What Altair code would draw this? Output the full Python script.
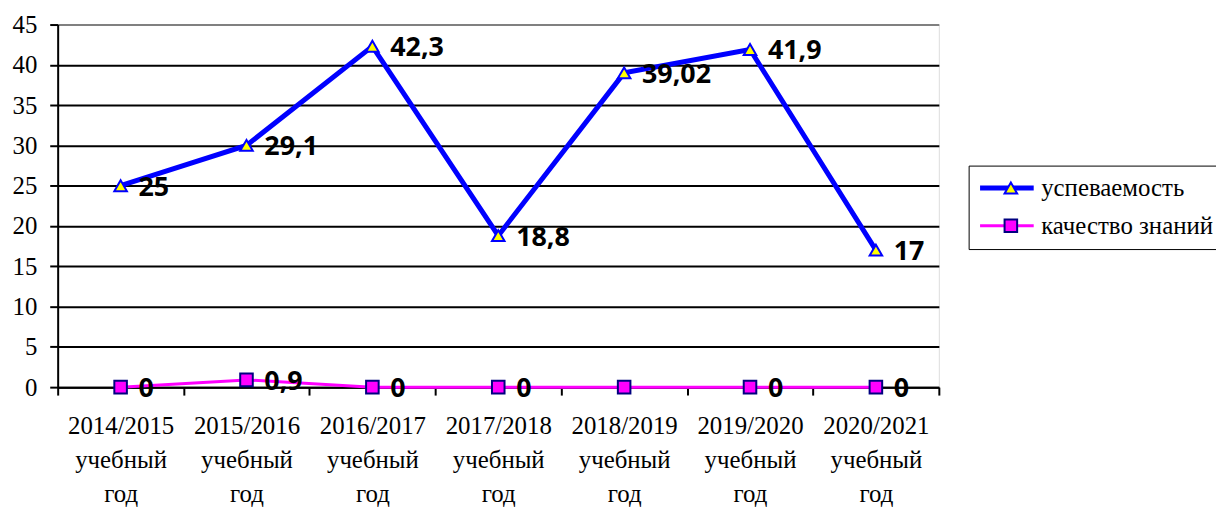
import altair as alt
import pandas as pd

years = [
    "2014/2015 учебный год",
    "2015/2016 учебный год",
    "2016/2017 учебный год",
    "2017/2018 учебный год",
    "2018/2019 учебный год",
    "2019/2020 учебный год",
    "2020/2021 учебный год",
]
series_names = ["успеваемость", "качество знаний"]
usp_values = [25, 30, 42.3, 18.8, 39, 41.9, 17]
usp_labels = ["25", "29,1", "42,3", "18,8", "39,02", "41,9", "17"]
kach_values = [0, 0.9, 0, 0, 0, 0, 0]
kach_labels = ["0", "0,9", "0", "0", "", "0", "0"]
y_ticks = [0, 5, 10, 15, 20, 25, 30, 35, 40, 45]

# marker series keys (distinct strings so the marker legend stays separate)
marker_names = [s + " " for s in series_names]

rows = []
for name, mname, vals, labs in [(series_names[0], marker_names[0], usp_values, usp_labels),
                                (series_names[1], marker_names[1], kach_values, kach_labels)]:
    for y, v, l in zip(years, vals, labs):
        rows.append({"year": y, "series": name, "series2": mname, "value": v, "label": l})
df = pd.DataFrame(rows)

SERIF = "Liberation Serif"
W, H = 887, 365
LX, LY = 917, 142

x_enc = alt.X(
    "year:N", sort=years,
    scale=alt.Scale(type="band", paddingInner=0, paddingOuter=0),
    axis=alt.Axis(
        title=None, labelAngle=0, tickBand="extent",
        labelExpr="split(datum.label, ' ')", labelLineHeight=34,
        labelFont=SERIF, labelFontSize=25, labelColor="black",
        labelPadding=19, tickSize=8, tickColor="black", tickWidth=2,
        domainColor="black", domainWidth=2, grid=False,
    ),
)
y_enc = alt.Y(
    "value:Q",
    scale=alt.Scale(domain=[0, 45], nice=False, zero=True),
    axis=alt.Axis(
        title=None, values=y_ticks,
        labelFont=SERIF, labelFontSize=25, labelColor="black",
        labelPadding=13, tickSize=8, tickColor="black", tickWidth=2,
        domainColor="black", domainWidth=2,
        grid=True, gridWidth=2,
        gridColor=alt.condition("datum.value == 45", alt.value("#808080"), alt.value("black")),
    ),
)

line_legend = alt.Legend(
    orient="none", legendX=LX, legendY=LY, title=None,
    symbolType="M-2.7,0L2.7,0", symbolSize=400, symbolOffset=16,
    labelFont=SERIF, labelFontSize=25, labelColor="black", labelLimit=400,
    labelOffset=22, rowPadding=12, padding=10,
    strokeColor="black", fillColor="white",
)
marker_legend = alt.Legend(
    orient="none", legendX=LX, legendY=LY, title=None,
    symbolSize=160, symbolOffset=20, symbolStrokeWidth=2,
    labelFont=SERIF, labelFontSize=25, labelOpacity=0, labelLimit=400,
    labelExpr="' '",
    labelOffset=22, rowPadding=12, padding=10,
    strokeColor="transparent",
)

base = alt.Chart(df)

lines = base.mark_line().encode(
    x=x_enc, y=y_enc,
    color=alt.Color("series:N", scale=alt.Scale(domain=series_names, range=["#0000FF", "#FF00FF"]), legend=line_legend),
    strokeWidth=alt.StrokeWidth("series:N", scale=alt.Scale(domain=series_names, range=[5, 3]), legend=line_legend),
    detail="series:N",
)

points = base.mark_point(filled=True, size=160, strokeWidth=2, opacity=1).encode(
    x=x_enc, y=y_enc,
    shape=alt.Shape("series2:N", scale=alt.Scale(domain=marker_names, range=["triangle-up", "square"]), legend=marker_legend),
    fill=alt.Fill("series2:N", scale=alt.Scale(domain=marker_names, range=["#FFFF00", "#FF00FF"]), legend=marker_legend),
    stroke=alt.Stroke("series2:N", scale=alt.Scale(domain=marker_names, range=["#0000FF", "#000080"]), legend=marker_legend),
)

texts = base.mark_text(
    align="left", baseline="middle", dx=18, dy=2,
    font="Open Sans", fontWeight="bold", fontSize=27, color="black",
).encode(x=x_enc, y=y_enc, text="label:N")

chart = (
    alt.layer(lines, points, texts)
    .properties(
        width=W, height=H, autosize="none",
        padding={"left": 50, "top": 15, "right": 279, "bottom": 119},
    )
    .configure_view(stroke="#808080", strokeWidth=2)
    .configure(background="white")
)

chart.save("out.html", embed_options={"renderer": "svg", "actions": False})
